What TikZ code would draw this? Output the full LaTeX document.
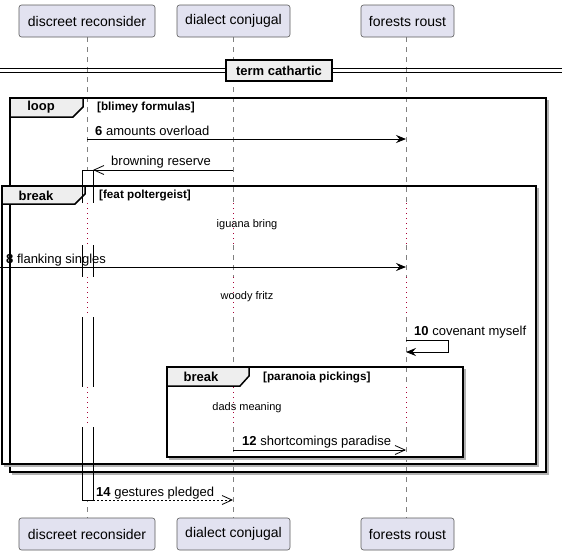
\documentclass[tikz,border=0pt]{standalone}
\usepackage{fontspec}
\setmainfont{Liberation Sans}
\usetikzlibrary{arrows.meta}
\definecolor{partfill}{HTML}{E2E2F0}
\definecolor{partdraw}{HTML}{5A5A5A}
\definecolor{tabfill}{HTML}{EEEEEE}
\definecolor{dotred}{HTML}{A80036}

\begin{document}
\begin{tikzpicture}[x=1pt, y=-1pt,
  part/.style={draw=partdraw, fill=partfill, rounded corners=2.5pt, line width=0.6pt,
    minimum height=32pt, inner sep=0pt, font=\fontsize{14}{16}\selectfont},
  life/.style={draw=gray, line width=0.6pt, dash pattern=on 5pt off 5pt},
  wait/.style={draw=dotred, line width=0.9pt, dash pattern=on 1pt off 4pt},
  grp/.style={draw, line width=1.5pt},
  grpshade/.style={draw=gray!60, line width=1.5pt},
  tabbox/.style={draw, fill=tabfill, line width=1.5pt},
  tabtxt/.style={font=\bfseries\fontsize{13}{15}\selectfont, inner sep=0pt},
  guard/.style={font=\bfseries\fontsize{11.7}{13}\selectfont, inner sep=0pt, anchor=west},
  lbl/.style={font=\fontsize{13}{15}\selectfont, inner sep=0pt, anchor=base west},
  delay/.style={font=\fontsize{11}{13}\selectfont, inner sep=0pt},
  sync/.style={line width=0.8pt, -{Stealth[length=10pt, width=8pt, inset=3.5pt]}},
  async/.style={line width=0.8pt, -{Straight Barb[length=10pt, width=9pt, line width=0.8pt]}},
  reply/.style={async, dash pattern=on 2pt off 2pt}]
\useasboundingbox (0,0) rectangle (562,555);

% lifelines, dotted where the delays are
\foreach \x in {87,233,406} {
  \draw[life] (\x,37) -- (\x,203) (\x,245) -- (\x,277) (\x,317) -- (\x,387) (\x,427) -- (\x,518);
  \draw[wait] (\x,203) -- (\x,245) (\x,277) -- (\x,317) (\x,387) -- (\x,427);
}

% participants
\node[part, minimum width=136pt] (dr) at (87,21) {discreet reconsider};
\node[part, minimum width=113pt] (dc) at (233.5,21) {dialect conjugal};
\node[part, minimum width=93pt] (fr) at (407.5,21) {forests roust};
\node[part, minimum width=136pt] (drb) at (87,534) {discreet reconsider};
\node[part, minimum width=113pt] (dcb) at (233.5,534) {dialect conjugal};
\node[part, minimum width=93pt] (frb) at (407.5,534) {forests roust};

% divider
\draw[line width=0.9pt] (0,68.5) -- (562,68.5) (0,72.5) -- (562,72.5);
\node[tabbox, tabtxt, minimum width=106pt, minimum height=21pt] (div) at (279,70.5) {term cathartic};

% activation fill
\fill[white] (82,170) rectangle (93,203) (82,245) rectangle (93,277)
  (82,317) rectangle (93,387) (82,427) rectangle (93,500);

% loop
\draw[grpshade] (548,100) -- (548,474) -- (12,474);
\draw[grp] (10,98) rectangle (546,472);
\draw[tabbox] (10,98) -- (83,98) -- (83,107) -- (73,117) -- (10,117) -- cycle;
\node[tabtxt] (loop) at (41,107.5) {loop};
\node[guard] (g1) at (97,107.5) {[blimey formulas]};

% break 1
\draw[grpshade] (538,188) -- (538,466) -- (4,466);
\draw[grp] (2,186) rectangle (536,464);
\draw[tabbox] (2,186) -- (85,186) -- (85,194) -- (75,204) -- (2,204) -- cycle;
\node[tabtxt] (brk1) at (36,195.5) {break};
\node[guard] (g2) at (99,195) {[feat poltergeist]};

% break 2
\draw[grpshade] (465,369) -- (465,459) -- (169,459);
\draw[grp] (167,367) rectangle (463,457);
\draw[tabbox] (167,367) -- (249,367) -- (249,376) -- (240,386) -- (167,386) -- cycle;
\node[tabtxt] (brk2) at (201,377) {break};
\node[guard] (g3) at (263,377) {[paranoia pickings]};

% activation outline
\draw[line width=0.8pt] (82,203) -- (82,170) -- (93,170) -- (93,203)
  (82,245) -- (82,277) (93,245) -- (93,277)
  (82,317) -- (82,387) (93,317) -- (93,387)
  (82,427) -- (82,500) -- (93,500) -- (93,427);

% messages
\coordinate (m6a) at (87,139);
\coordinate (m6b) at (406,139);
\coordinate (m7a) at (233,170);
\coordinate (m7b) at (93,170);
\coordinate (m8a) at (0,267);
\coordinate (m8b) at (406,267);
\coordinate (m10a) at (406,340);
\coordinate (m10b) at (406,352);
\coordinate (m12a) at (233,450);
\coordinate (m12b) at (406,450);
\coordinate (m14a) at (93,500);
\coordinate (m14b) at (233,500);

\path [sync] (m6a) edge (m6b);
\path [async] (m7a) edge (m7b);
\path [sync] (m8a) edge (m8b);
\draw [sync] (m10a) -- ++(42,0) |- (m10b);
\path [async] (m12a) edge (m12b);
\path [reply] (m14a) edge (m14b);

\node[lbl] (t6) at (95,135) {\textbf{6} amounts overload};
\node[lbl] (t7) at (111,165) {browning reserve};
\node[lbl] (t8) at (6,263) {\textbf{8} flanking singles};
\node[lbl] (t10) at (414,335) {\textbf{10} covenant myself};
\node[lbl] (t12) at (242,445) {\textbf{12} shortcomings paradise};
\node[lbl] (t14) at (96,496) {\textbf{14} gestures pledged};

% delays
\node[delay] (w1) at (247,225) {iguana bring};
\node[delay] (w2) at (247,297) {woody fritz};
\node[delay] (w3) at (247,408) {dads meaning};
\end{tikzpicture}
\end{document}
